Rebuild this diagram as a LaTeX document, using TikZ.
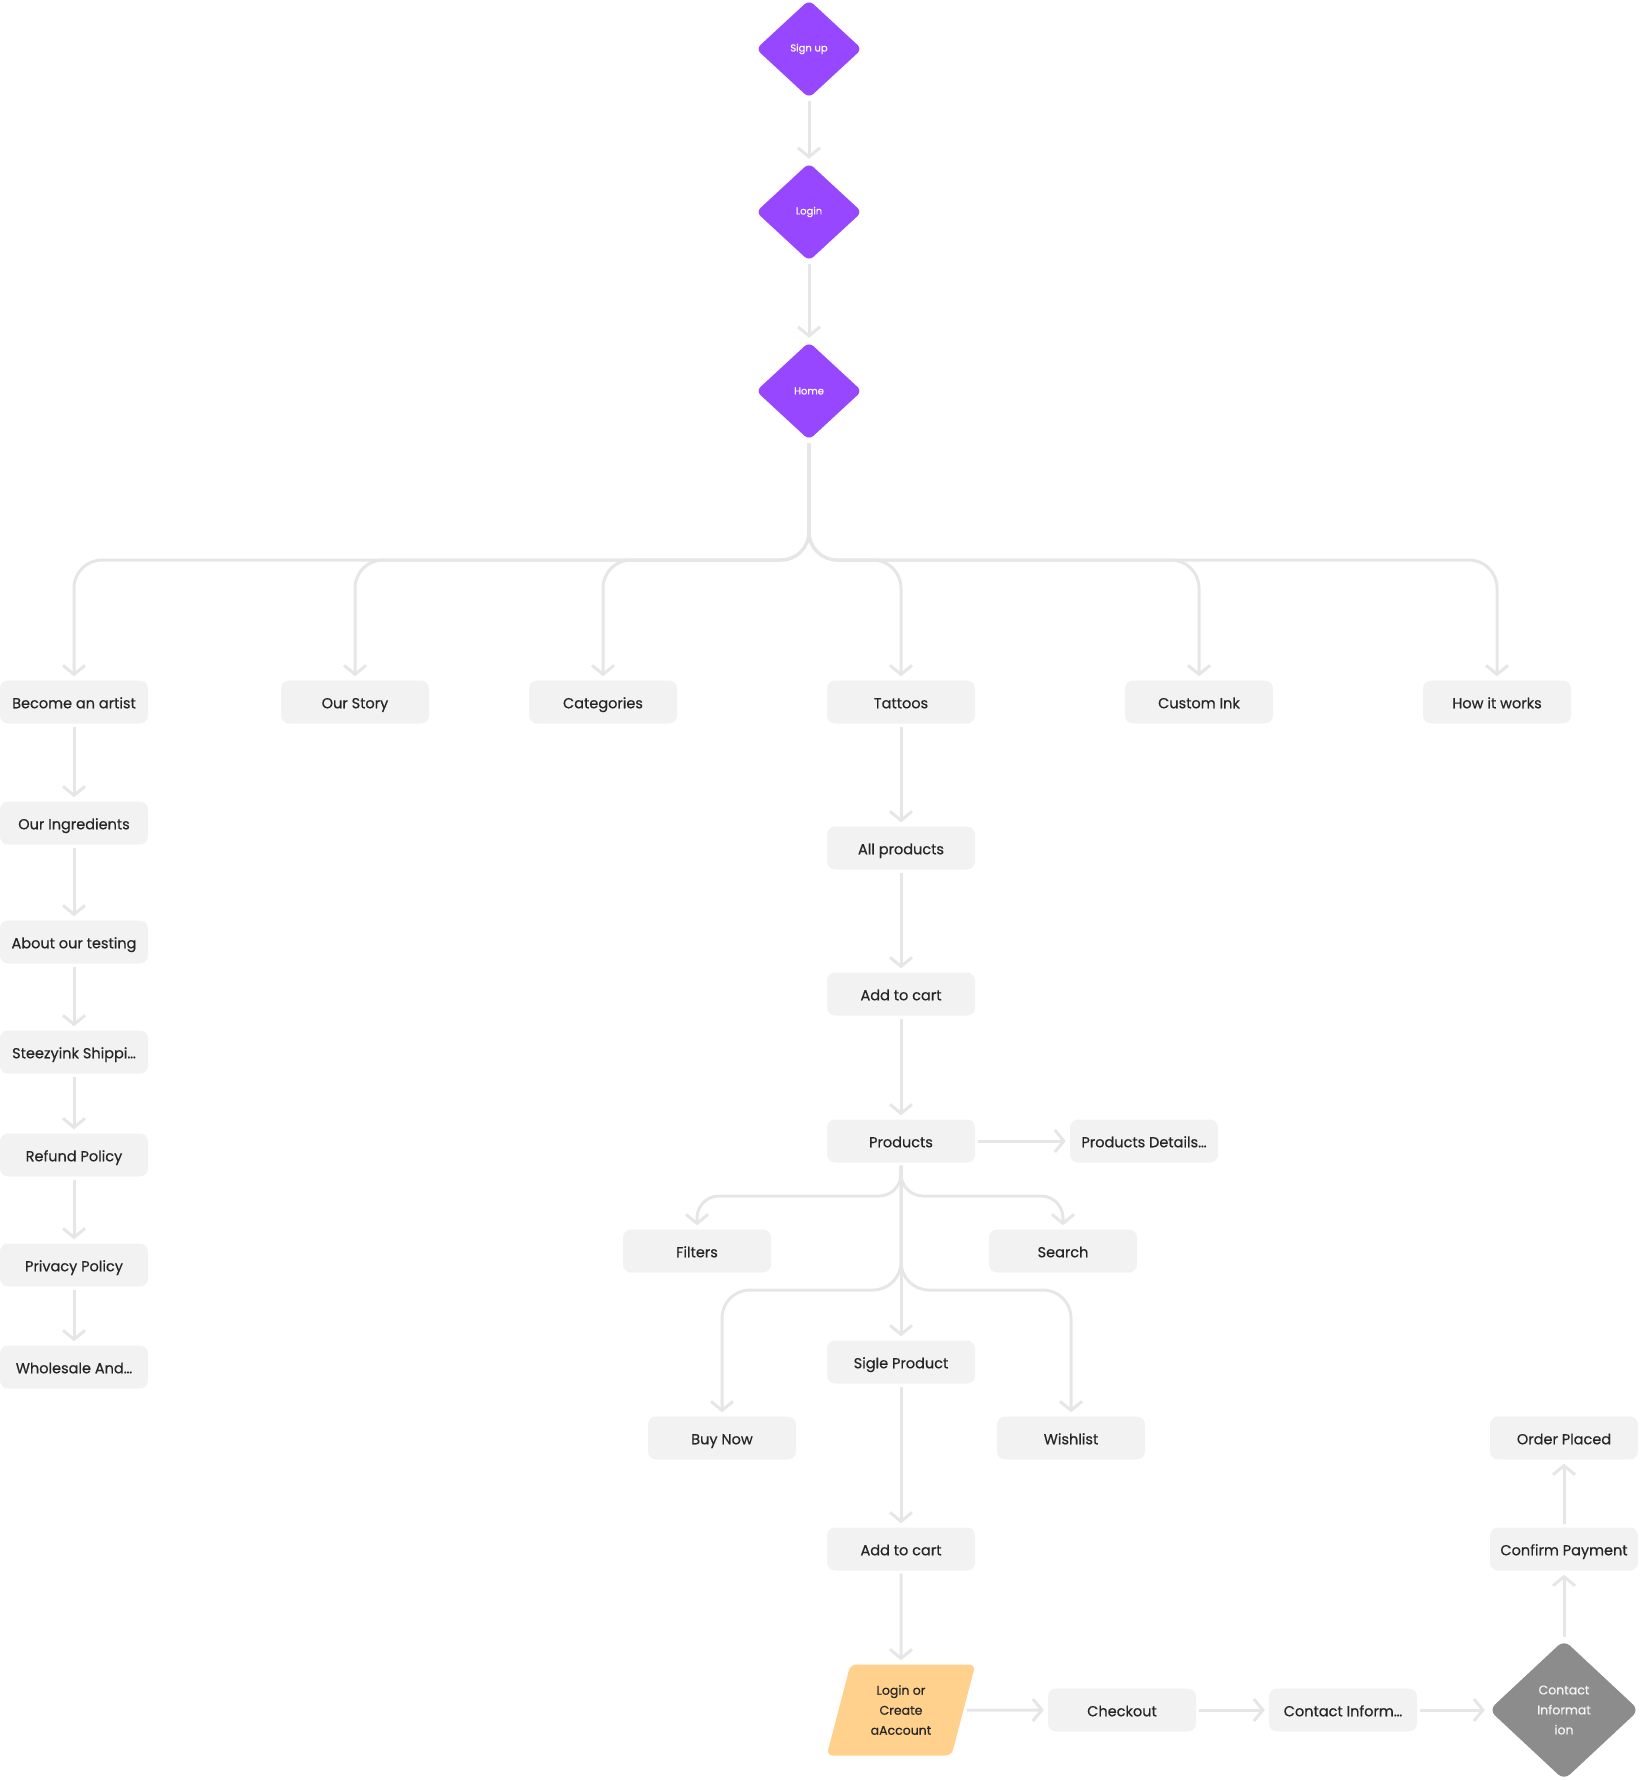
\documentclass[tikz,border=0pt]{standalone}
\usepackage{fontspec}
\setmainfont{Poppins}
\newfontfamily\boxfont{Poppins}[FakeBold=0.5]
\usetikzlibrary{arrows.meta,shapes.geometric}
\definecolor{purp}{HTML}{9747FF}
\definecolor{boxfill}{HTML}{F2F2F2}
\definecolor{linec}{HTML}{E6E6E6}
\definecolor{txt}{HTML}{262626}
\definecolor{orng}{HTML}{FFD18C}
\definecolor{gdia}{HTML}{8C8C8C}
\begin{document}
\begin{tikzpicture}[x=1pt,y=-1pt,
 box/.style={rectangle, rounded corners=8pt, fill=boxfill, minimum width=148pt, minimum height=43pt, inner sep=0pt, text=txt, text height=13.5pt, text depth=1pt, font=\boxfont\fontsize{14.5}{17}\selectfont},
 pdia/.style={diamond, rounded corners=6pt, fill=purp, minimum width=106pt, minimum height=98pt, inner sep=0pt, text=white, font=\boxfont\fontsize{10}{12}\selectfont},
 conn/.style={draw=linec, line width=3pt, -{Straight Barb[length=9pt,width=22pt]}, shorten >=4pt, shorten <=3pt, rounded corners=28pt},
 conns/.style={conn, rounded corners=22pt},
]
\useasboundingbox (0,0) rectangle (1640,1780);
% diamonds
\node[pdia] (signup) at (809,49) {Sign up};
\node[pdia] (login) at (809,212) {Login};
\node[pdia] (home) at (809,391) {Home};
% first row
\node[box] (become) at (74,702) {Become an artist};
\node[box] (story) at (355,702) {Our Story};
\node[box] (cat) at (603,702) {Categories};
\node[box] (tattoos) at (901,702) {Tattoos};
\node[box] (custom) at (1199,702) {Custom Ink};
\node[box] (how) at (1497,702) {How it works};
% left column
\node[box] (ingr) at (74,823) {Our Ingredients};
\node[box] (testing) at (74,942) {About our testing};
\node[box] (ship) at (74,1052) {Steezyink Shippi…};
\node[box] (refund) at (74,1155) {Refund Policy};
\node[box] (privacy) at (74,1265) {Privacy Policy};
\node[box] (whole) at (74,1367) {Wholesale And…};
% centre column
\node[box] (allp) at (901,848) {All products};
\node[box] (cart1) at (901,994) {Add to cart};
\node[box] (prod) at (901,1141) {Products};
\node[box] (pdet) at (1144,1141) {Products Details…};
\node[box] (filters) at (697,1251) {Filters};
\node[box] (search) at (1063,1251) {Search};
\node[box] (sigle) at (901,1362) {Sigle Product};
\node[box] (buy) at (722,1438) {Buy Now};
\node[box] (wish) at (1071,1438) {Wishlist};
\node[box] (cart2) at (901,1549) {Add to cart};
\node[trapezium, trapezium left angle=74, trapezium right angle=106, trapezium stretches=true,
  minimum width=149pt, minimum height=91pt, inner sep=0pt, fill=orng, rounded corners=6pt,
  text=txt, align=center, font=\boxfont\fontsize{12.5}{20}\selectfont] (lca) at (901,1710) {Login or\\Create\\aAccount};
\node[box] (checkout) at (1122,1710) {Checkout};
\node[box] (cinf) at (1343,1710) {Contact Inform…};
\node[diamond, rounded corners=8pt, fill=gdia, minimum width=150pt, minimum height=140pt, inner sep=0pt,
  text=white!92!gray, align=center, font=\boxfont\fontsize{12.5}{20}\selectfont] (cdia) at (1564,1710) {Contact\\Informat\\ion};
\node[box] (confirm) at (1564,1549) {Confirm Payment};
\node[box] (order) at (1564,1438) {Order Placed};
% connectors
\draw[conn] (signup) -- (login);
\draw[conn] (login) -- (home);
\coordinate (bus) at (0,560);
\foreach \t in {become,story,cat,tattoos,custom,how}
  \draw[conn] (home.south) -- (home.south |- bus) -- (\t.north |- bus) -- (\t.north);
\draw[conn] (become) -- (ingr);
\draw[conn] (ingr) -- (testing);
\draw[conn] (testing) -- (ship);
\draw[conn] (ship) -- (refund);
\draw[conn] (refund) -- (privacy);
\draw[conn] (privacy) -- (whole);
\draw[conn] (tattoos) -- (allp);
\draw[conn] (allp) -- (cart1);
\draw[conn] (cart1) -- (prod);
\draw[conn] (prod.east) -- (pdet.west);
\coordinate (bustwo) at (0,1196);
\coordinate (busthree) at (0,1290);
\draw[conns] (prod.south) -- (prod.south |- bustwo) -- (filters.north |- bustwo) -- (filters.north);
\draw[conns] (prod.south) -- (prod.south |- bustwo) -- (search.north |- bustwo) -- (search.north);
\draw[conn] (prod.south) -- (prod.south |- busthree) -- (buy.north |- busthree) -- (buy.north);
\draw[conn] (prod.south) -- (prod.south |- busthree) -- (wish.north |- busthree) -- (wish.north);
\draw[conn] (prod) -- (sigle);
\draw[conn] (sigle) -- (cart2);
\draw[conn] (cart2) -- (lca.north);
\draw[conn] (lca.east) -- (checkout.west);
\draw[conn] (checkout.east) -- (cinf.west);
\draw[conn] (cinf.east) -- (cdia.west);
\draw[conn] (cdia.north) -- (confirm.south);
\draw[conn] (confirm.north) -- (order.south);
\end{tikzpicture}
\end{document}
